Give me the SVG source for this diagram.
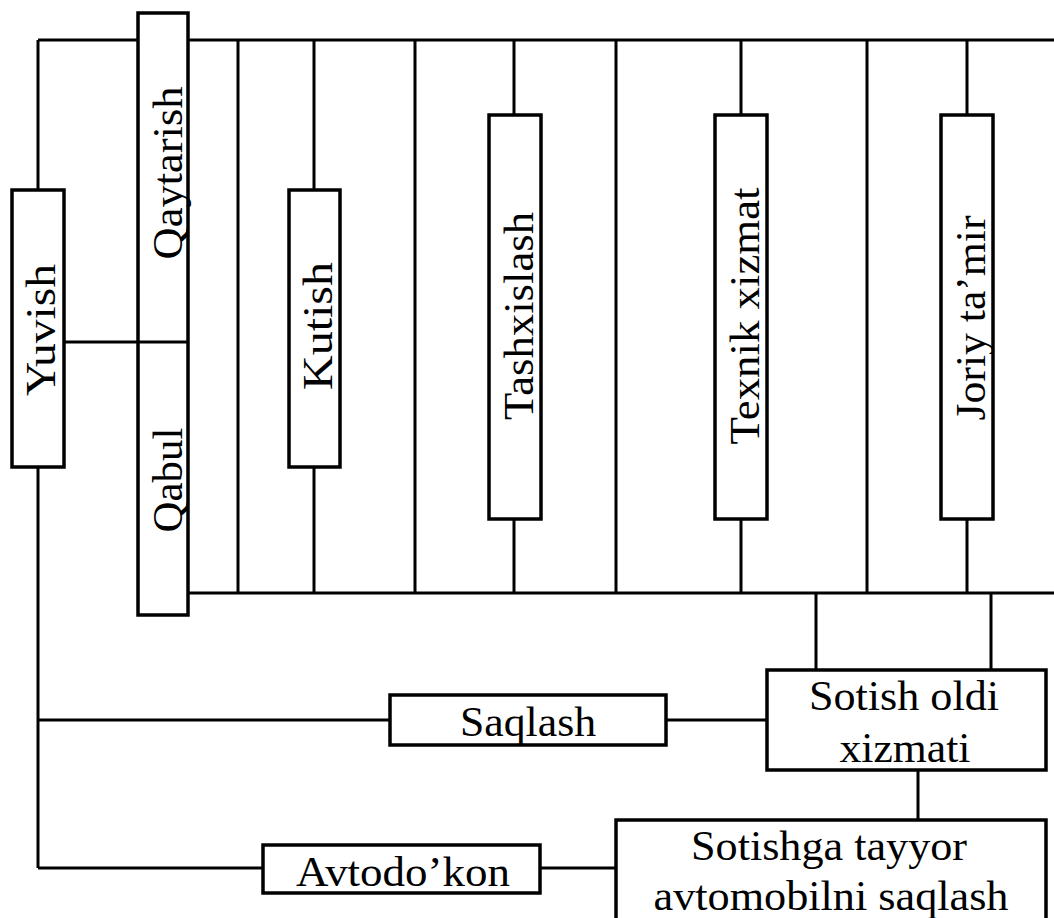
<svg xmlns="http://www.w3.org/2000/svg" width="1054" height="918" viewBox="0 0 1054 918">
<style>
.ln{stroke:#000;stroke-width:3;fill:none}
.bx{stroke:#000;stroke-width:3.5;fill:#fff}
.t{font-family:"Liberation Serif","Times New Roman",serif;font-size:42px;fill:#000;text-anchor:middle}
</style>
<rect width="1054" height="918" fill="#fff"/>
<g id="connectors" class="ln">
<path d="M38 40H1054M188 593H1054"/>
<path d="M38 40V190M38 467V868M64 342H188"/>
<path d="M238 40V593M415 40V593M616 40V593M867 40V593"/>
<path d="M314 40V190M314 467V593"/>
<path d="M514 40V115M514 519V593M741 40V115M741 519V593M967 40V115M967 519V593"/>
<path d="M816 593V670M991 593V670M918 770V820"/>
<path d="M38 720H390M666 720H767M38 868H263M540 868H616"/>
</g>
<g id="yuvish"><rect class="bx" x="12" y="190" width="52" height="277"/><text class="t" transform="translate(55 330) rotate(-90)" textLength="132" lengthAdjust="spacingAndGlyphs">Yuvish</text></g>
<g id="qaytarish-qabul"><rect class="bx" x="138" y="13" width="50" height="602"/><line class="ln" x1="138" y1="342" x2="188" y2="342"/>
<text class="t" transform="translate(182 173) rotate(-90)" textLength="173" lengthAdjust="spacingAndGlyphs">Qaytarish</text>
<text class="t" transform="translate(182 480) rotate(-90)" textLength="105" lengthAdjust="spacingAndGlyphs">Qabul</text></g>
<g id="kutish"><rect class="bx" x="289" y="190" width="51" height="277"/><text class="t" transform="translate(332 326) rotate(-90)" textLength="128" lengthAdjust="spacingAndGlyphs">Kutish</text></g>
<g id="tashxislash"><rect class="bx" x="489" y="115" width="52" height="404"/><text class="t" transform="translate(533 316) rotate(-90)" textLength="208" lengthAdjust="spacingAndGlyphs">Tashxislash</text></g>
<g id="texnik-xizmat"><rect class="bx" x="715" y="115" width="52" height="404"/><text class="t" transform="translate(759 316) rotate(-90)" textLength="257" lengthAdjust="spacingAndGlyphs">Texnik xizmat</text></g>
<g id="joriy-tamir"><rect class="bx" x="941" y="115" width="52" height="404"/><text class="t" transform="translate(985 318) rotate(-90)" textLength="205" lengthAdjust="spacingAndGlyphs">Joriy ta’mir</text></g>
<g id="saqlash"><rect class="bx" x="390" y="695" width="276" height="50"/><text class="t" x="528" y="736" textLength="136" lengthAdjust="spacingAndGlyphs">Saqlash</text></g>
<g id="sotish-oldi"><rect class="bx" x="767" y="670" width="279" height="100"/><text class="t" x="904" y="710" textLength="190" lengthAdjust="spacingAndGlyphs">Sotish oldi</text><text class="t" x="905" y="762" textLength="131" lengthAdjust="spacingAndGlyphs">xizmati</text></g>
<g id="sotishga-tayyor"><rect class="bx" x="616" y="820" width="430" height="120"/><text class="t" x="829" y="860" textLength="276" lengthAdjust="spacingAndGlyphs">Sotishga tayyor</text><text class="t" x="831" y="910" textLength="355" lengthAdjust="spacingAndGlyphs">avtomobilni saqlash</text></g>
<g id="avtodokon"><rect class="bx" x="263" y="845" width="277" height="48"/><text class="t" x="403" y="886" textLength="214" lengthAdjust="spacingAndGlyphs">Avtodo’kon</text></g>
</svg>
